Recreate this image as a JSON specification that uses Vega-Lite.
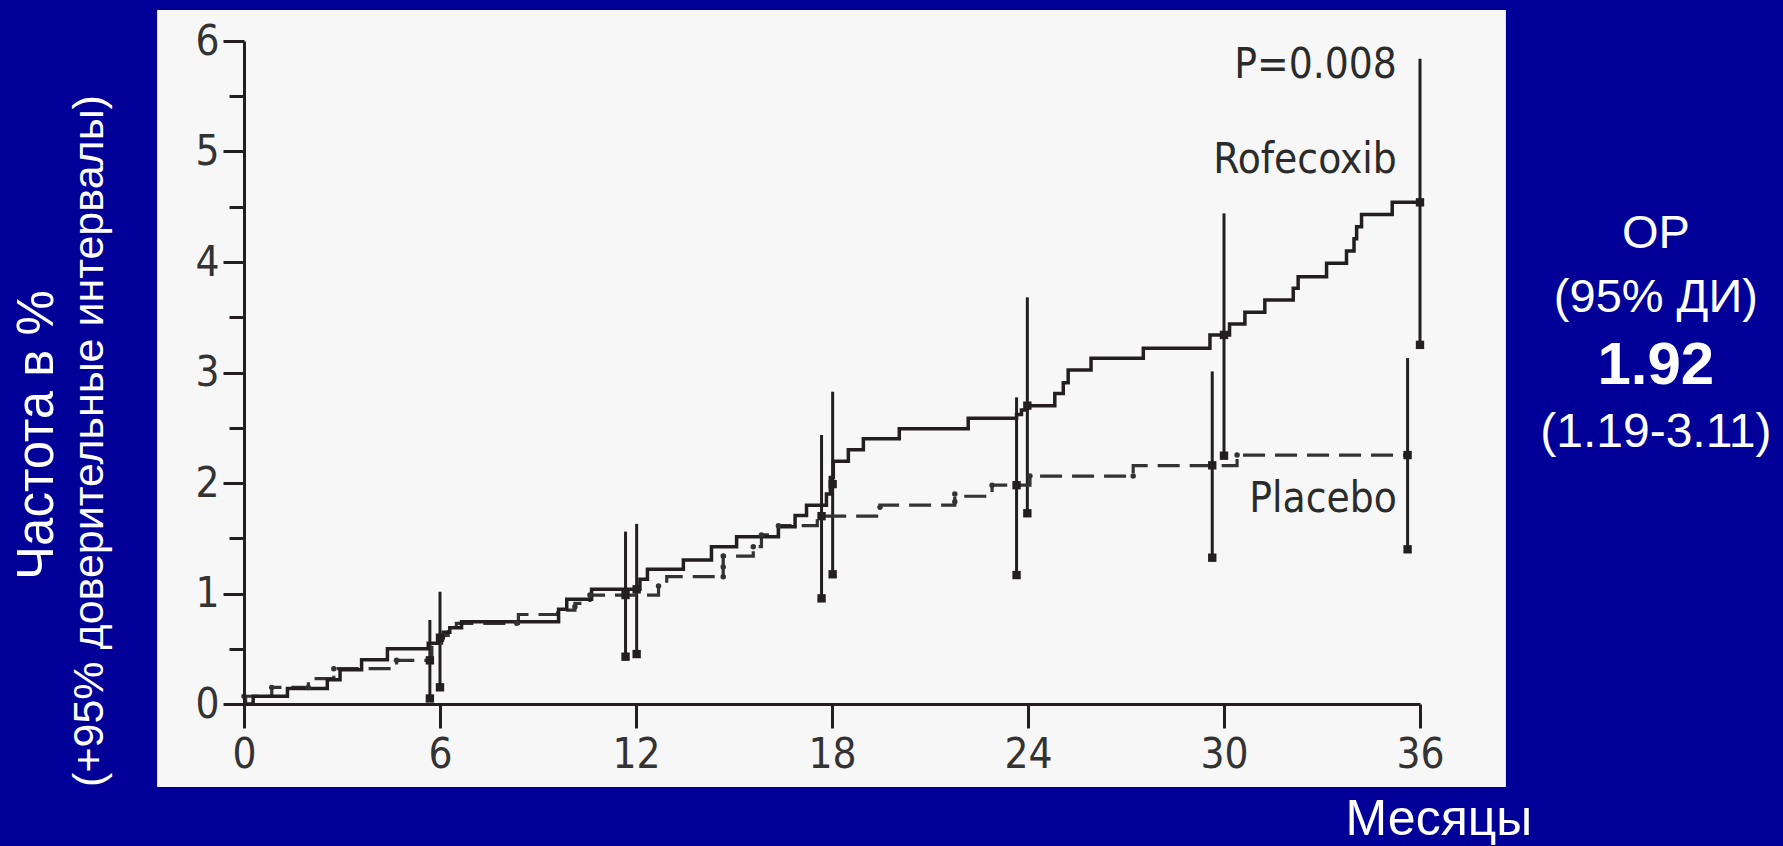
{
  "$schema": "https://vega.github.io/schema/vega-lite/v6.json",
  "width": 1176,
  "height": 663,
  "autosize": {"type": "none"},
  "padding": {"left": 244, "top": 41, "right": 363, "bottom": 142},
  "background": "#000099",
  "config": {"view": {"stroke": null}},
  "datasets": {
    "rofecoxib": [
      {"month": 0, "rate": 0}, {"month": 0.28, "rate": 0.07}, {"month": 1.33, "rate": 0.14},
      {"month": 2.55, "rate": 0.22}, {"month": 2.94, "rate": 0.31}, {"month": 3.6, "rate": 0.4},
      {"month": 4.39, "rate": 0.5}, {"month": 5.64, "rate": 0.55}, {"month": 5.95, "rate": 0.6},
      {"month": 6.1, "rate": 0.65}, {"month": 6.3, "rate": 0.69}, {"month": 6.66, "rate": 0.745},
      {"month": 9.63, "rate": 0.857}, {"month": 9.88, "rate": 0.947}, {"month": 10.64, "rate": 1.038},
      {"month": 12.12, "rate": 1.128}, {"month": 12.35, "rate": 1.219}, {"month": 13.45, "rate": 1.303},
      {"month": 14.31, "rate": 1.424}, {"month": 15.08, "rate": 1.514}, {"month": 16.36, "rate": 1.605},
      {"month": 16.87, "rate": 1.707}, {"month": 17.22, "rate": 1.798}, {"month": 17.83, "rate": 1.9},
      {"month": 17.95, "rate": 2.05}, {"month": 18.04, "rate": 2.196}, {"month": 18.5, "rate": 2.3},
      {"month": 18.96, "rate": 2.4}, {"month": 20.06, "rate": 2.49}, {"month": 22.17, "rate": 2.585},
      {"month": 23.65, "rate": 2.62}, {"month": 23.8, "rate": 2.66}, {"month": 23.96, "rate": 2.7},
      {"month": 24.82, "rate": 2.81}, {"month": 25.08, "rate": 2.908}, {"month": 25.23, "rate": 3.023},
      {"month": 25.93, "rate": 3.128}, {"month": 27.53, "rate": 3.219}, {"month": 29.57, "rate": 3.34},
      {"month": 30.17, "rate": 3.44}, {"month": 30.64, "rate": 3.545}, {"month": 31.25, "rate": 3.656},
      {"month": 32.12, "rate": 3.762}, {"month": 32.27, "rate": 3.867}, {"month": 33.14, "rate": 3.988},
      {"month": 33.75, "rate": 4.1}, {"month": 33.98, "rate": 4.21}, {"month": 34.06, "rate": 4.32},
      {"month": 34.21, "rate": 4.43}, {"month": 35.15, "rate": 4.54}, {"month": 36.0, "rate": 4.54}
    ],
    "placebo": [
      {"month": 0, "rate": 0}, {"month": 0.05, "rate": 0.07}, {"month": 0.85, "rate": 0.15},
      {"month": 1.97, "rate": 0.23}, {"month": 2.75, "rate": 0.32}, {"month": 4.67, "rate": 0.395},
      {"month": 5.75, "rate": 0.55}, {"month": 6.05, "rate": 0.62}, {"month": 6.25, "rate": 0.68},
      {"month": 6.5, "rate": 0.73}, {"month": 8.4, "rate": 0.81}, {"month": 9.6, "rate": 0.85},
      {"month": 10.13, "rate": 0.91}, {"month": 10.59, "rate": 0.986}, {"month": 12.69, "rate": 1.068},
      {"month": 12.94, "rate": 1.152}, {"month": 14.67, "rate": 1.339}, {"month": 15.59, "rate": 1.424},
      {"month": 15.84, "rate": 1.53}, {"month": 16.36, "rate": 1.614}, {"month": 17.55, "rate": 1.7},
      {"month": 19.47, "rate": 1.8}, {"month": 21.76, "rate": 1.88}, {"month": 22.9, "rate": 1.98},
      {"month": 24.06, "rate": 2.063}, {"month": 27.22, "rate": 2.157}, {"month": 30.4, "rate": 2.253},
      {"month": 35.64, "rate": 2.253}
    ],
    "placeboTicks": [
      {"month": 0.0, "rate": 0.07}, {"month": 0.85, "rate": 0.15}, {"month": 1.97, "rate": 0.15},
      {"month": 2.75, "rate": 0.32}, {"month": 4.67, "rate": 0.395}, {"month": 6.1, "rate": 0.62},
      {"month": 8.35, "rate": 0.73}, {"month": 10.13, "rate": 0.88}, {"month": 10.59, "rate": 0.986},
      {"month": 12.69, "rate": 1.068}, {"month": 14.67, "rate": 1.152}, {"month": 14.67, "rate": 1.24},
      {"month": 14.67, "rate": 1.339}, {"month": 15.59, "rate": 1.424}, {"month": 15.84, "rate": 1.53},
      {"month": 16.36, "rate": 1.614}, {"month": 19.47, "rate": 1.78}, {"month": 21.76, "rate": 1.83},
      {"month": 21.76, "rate": 1.9}, {"month": 22.9, "rate": 1.98}, {"month": 24.06, "rate": 2.063},
      {"month": 27.22, "rate": 2.063}, {"month": 30.4, "rate": 2.253}
    ],
    "ci": [
      {"arm": "Placebo", "month": 5.69, "est": 0.395, "lo": 0.05, "hi": 0.76},
      {"arm": "Placebo", "month": 11.68, "est": 0.986, "lo": 0.428, "hi": 1.56},
      {"arm": "Placebo", "month": 17.68, "est": 1.7, "lo": 0.956, "hi": 2.434},
      {"arm": "Placebo", "month": 23.65, "est": 1.98, "lo": 1.167, "hi": 2.775},
      {"arm": "Placebo", "month": 29.64, "est": 2.16, "lo": 1.324, "hi": 3.01},
      {"arm": "Placebo", "month": 35.62, "est": 2.253, "lo": 1.4, "hi": 3.13},
      {"arm": "Rofecoxib", "month": 6.0, "est": 0.6, "lo": 0.151, "hi": 1.016},
      {"arm": "Rofecoxib", "month": 12.02, "est": 1.038, "lo": 0.452, "hi": 1.63},
      {"arm": "Rofecoxib", "month": 18.02, "est": 1.99, "lo": 1.174, "hi": 2.826},
      {"arm": "Rofecoxib", "month": 23.98, "est": 2.7, "lo": 1.726, "hi": 3.68},
      {"arm": "Rofecoxib", "month": 30.0, "est": 3.34, "lo": 2.247, "hi": 4.44},
      {"arm": "Rofecoxib", "month": 36.0, "est": 4.54, "lo": 3.25, "hi": 5.84}
    ]
  },
  "layer": [
    {
      "data": {"values": [{}]},
      "mark": {"type": "rect", "fill": "#f7f7f7"},
      "encoding": {
        "x": {
          "datum": -2.66, "type": "quantitative", "title": null,
          "scale": {"domain": [0, 36], "nice": false, "zero": false},
          "axis": {
            "values": [0, 6, 12, 18, 24, 30, 36], "grid": false, "title": null, "zindex": 2,
            "domainColor": "#231f20", "domainWidth": 3,
            "tickColor": "#231f20", "tickWidth": 3, "tickSize": 24,
            "labelFont": "DejaVu Sans Condensed, Liberation Sans Narrow, DejaVu Sans, sans-serif",
            "labelFontSize": 42, "labelColor": "#333333", "labelPadding": 6, "labelFlush": false
          }
        },
        "x2": {"datum": 38.63},
        "y": {
          "datum": 6.281, "type": "quantitative", "title": null,
          "scale": {"domain": [0, 6], "nice": false, "zero": false},
          "axis": {
            "values": [0, 0.5, 1, 1.5, 2, 2.5, 3, 3.5, 4, 4.5, 5, 5.5, 6], "grid": false, "title": null, "zindex": 2,
            "labelExpr": "datum.value % 1 === 0 ? format(datum.value, 'd') : ''",
            "domainColor": "#231f20", "domainWidth": 3,
            "tickColor": "#231f20", "tickWidth": 3,
            "tickSize": {"condition": {"test": "datum.value % 1 !== 0", "value": 15}, "value": 21},
            "labelFont": "DejaVu Sans Condensed, Liberation Sans Narrow, DejaVu Sans, sans-serif",
            "labelFontSize": 42, "labelColor": "#333333", "labelPadding": 4
          }
        },
        "y2": {"datum": -0.751}
      }
    },
    {
      "data": {"name": "ci"},
      "mark": {"type": "rule", "color": "#231f20", "strokeWidth": 3},
      "encoding": {
        "x": {"field": "month", "type": "quantitative", "title": null},
        "y": {"field": "lo", "type": "quantitative", "title": null},
        "y2": {"field": "hi"}
      }
    },
    {
      "data": {"name": "placebo"},
      "mark": {"type": "line", "interpolate": "step-after", "color": "#333333", "strokeWidth": 3.2, "strokeDash": [22, 10]},
      "encoding": {
        "x": {"field": "month", "type": "quantitative", "title": null},
        "y": {"field": "rate", "type": "quantitative", "title": null}
      }
    },
    {
      "data": {"name": "rofecoxib"},
      "mark": {"type": "line", "interpolate": "step-after", "color": "#231f20", "strokeWidth": 3.5},
      "encoding": {
        "x": {"field": "month", "type": "quantitative", "title": null},
        "y": {"field": "rate", "type": "quantitative", "title": null}
      }
    },
    {
      "data": {"name": "placeboTicks"},
      "mark": {"type": "point", "shape": "circle", "filled": true, "color": "#333333", "size": 30, "opacity": 1},
      "encoding": {
        "x": {"field": "month", "type": "quantitative", "title": null},
        "y": {"field": "rate", "type": "quantitative", "title": null}
      }
    },
    {
      "data": {"name": "ci"},
      "mark": {"type": "point", "shape": "square", "filled": true, "color": "#231f20", "size": 70, "opacity": 1},
      "encoding": {
        "x": {"field": "month", "type": "quantitative", "title": null},
        "y": {"field": "lo", "type": "quantitative", "title": null}
      }
    },
    {
      "data": {"name": "ci"},
      "mark": {"type": "point", "shape": "square", "filled": true, "color": "#231f20", "size": 70, "opacity": 1},
      "encoding": {
        "x": {"field": "month", "type": "quantitative", "title": null},
        "y": {"field": "est", "type": "quantitative", "title": null}
      }
    },
    {
      "data": {"values": [{}]},
      "mark": {"type": "text", "text": "P=0.008", "align": "right", "baseline": "alphabetic", "font": "DejaVu Sans Condensed, Liberation Sans Narrow, DejaVu Sans, sans-serif", "fontSize": 42, "color": "#2b2b2b"},
      "encoding": {"x": {"datum": 35.29, "type": "quantitative"}, "y": {"datum": 5.665, "type": "quantitative"}}
    },
    {
      "data": {"values": [{}]},
      "mark": {"type": "text", "text": "Rofecoxib", "align": "right", "baseline": "alphabetic", "font": "DejaVu Sans Condensed, Liberation Sans Narrow, DejaVu Sans, sans-serif", "fontSize": 42, "color": "#2b2b2b"},
      "encoding": {"x": {"datum": 35.29, "type": "quantitative"}, "y": {"datum": 4.805, "type": "quantitative"}}
    },
    {
      "data": {"values": [{}]},
      "mark": {"type": "text", "text": "Placebo", "align": "right", "baseline": "alphabetic", "font": "DejaVu Sans Condensed, Liberation Sans Narrow, DejaVu Sans, sans-serif", "fontSize": 42, "color": "#2b2b2b"},
      "encoding": {"x": {"datum": 35.29, "type": "quantitative"}, "y": {"datum": 1.738, "type": "quantitative"}}
    },
    {
      "data": {"values": [{}]},
      "mark": {"type": "text", "text": "ОР", "align": "center", "baseline": "alphabetic", "font": "Liberation Sans, Arial, sans-serif", "fontSize": 47, "color": "#ffffff"},
      "encoding": {"x": {"datum": 43.22, "type": "quantitative"}, "y": {"datum": 4.127, "type": "quantitative"}}
    },
    {
      "data": {"values": [{}]},
      "mark": {"type": "text", "text": "(95% ДИ)", "align": "center", "baseline": "alphabetic", "font": "Liberation Sans, Arial, sans-serif", "fontSize": 47, "color": "#ffffff"},
      "encoding": {"x": {"datum": 43.22, "type": "quantitative"}, "y": {"datum": 3.548, "type": "quantitative"}}
    },
    {
      "data": {"values": [{}]},
      "mark": {"type": "text", "text": "1.92", "align": "center", "baseline": "alphabetic", "font": "Liberation Sans, Arial, sans-serif", "fontSize": 60, "fontWeight": "bold", "color": "#ffffff"},
      "encoding": {"x": {"datum": 43.22, "type": "quantitative"}, "y": {"datum": 2.896, "type": "quantitative"}}
    },
    {
      "data": {"values": [{}]},
      "mark": {"type": "text", "text": "(1.19-3.11)", "align": "center", "baseline": "alphabetic", "font": "Liberation Sans, Arial, sans-serif", "fontSize": 48, "color": "#ffffff"},
      "encoding": {"x": {"datum": 43.22, "type": "quantitative"}, "y": {"datum": 2.326, "type": "quantitative"}}
    },
    {
      "data": {"values": [{}]},
      "mark": {"type": "text", "text": "Частота в %", "align": "center", "baseline": "middle", "angle": 270, "font": "Liberation Sans, Arial, sans-serif", "fontSize": 51, "color": "#ffffff"},
      "encoding": {"x": {"datum": -6.305, "type": "quantitative"}, "y": {"datum": 2.434, "type": "quantitative"}}
    },
    {
      "data": {"values": [{}]},
      "mark": {"type": "text", "text": "(+95% доверительные интервалы)", "align": "center", "baseline": "middle", "angle": 270, "font": "Liberation Sans, Arial, sans-serif", "fontSize": 43, "color": "#ffffff"},
      "encoding": {"x": {"datum": -4.714, "type": "quantitative"}, "y": {"datum": 2.38, "type": "quantitative"}}
    },
    {
      "data": {"values": [{}]},
      "mark": {"type": "text", "text": "Месяцы", "align": "center", "baseline": "alphabetic", "font": "Liberation Sans, Arial, sans-serif", "fontSize": 50, "color": "#ffffff"},
      "encoding": {"x": {"datum": 36.58, "type": "quantitative"}, "y": {"datum": -1.19, "type": "quantitative"}}
    }
  ]
}
